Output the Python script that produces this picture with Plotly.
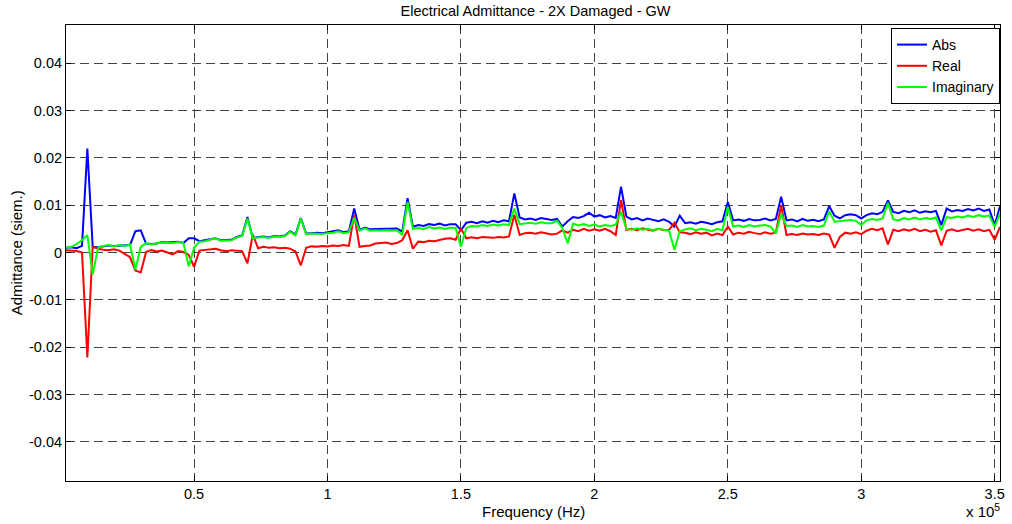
import numpy as np
import plotly.graph_objects as go

# Frequency grid (kHz), 2 kHz steps from 2 to 352 kHz
freq_khz = np.arange(2, 353, 2)

# Values in milli-siemens
abs_mS = [
    1.0, 1.1, 0.9, 1.4, 22.0, 1.2, 1.1, 1.3, 1.5, 1.4,
    1.5, 1.6, 1.6, 4.5, 4.7, 1.9, 1.8, 1.9, 2.2, 2.1,
    2.2, 2.3, 2.0, 3.0, 3.0, 2.4, 2.6, 2.8, 3.0, 2.6,
    2.6, 2.7, 3.3, 3.6, 7.5, 3.0, 3.3, 3.4, 3.2, 3.5,
    3.4, 3.6, 4.5, 3.8, 7.3, 4.0, 4.1, 4.2, 4.1, 4.3,
    4.4, 4.7, 4.3, 4.5, 9.3, 4.8, 5.3, 4.9, 5.0, 5.0,
    5.1, 5.0, 5.1, 4.4, 11.5, 5.4, 5.8, 5.6, 6.0, 5.8,
    6.1, 5.7, 6.0, 6.0, 4.7, 6.3, 6.5, 6.2, 6.6, 6.3,
    6.7, 6.4, 6.8, 6.6, 12.5, 7.4, 7.0, 7.2, 6.9, 7.3,
    7.1, 6.9, 7.1, 5.5, 6.6, 7.5, 7.3, 7.7, 8.4, 7.6,
    7.9, 7.4, 7.7, 7.3, 13.9, 7.6, 7.0, 7.3, 6.8, 7.2,
    6.9, 6.6, 7.0, 6.5, 5.5, 7.8, 6.2, 6.4, 6.1, 6.5,
    6.3, 6.0, 6.4, 6.6, 10.7, 6.8, 7.0, 6.7, 7.1, 6.8,
    6.9, 7.2, 6.8, 7.1, 11.8, 6.8, 7.0, 6.6, 7.1, 6.7,
    6.9, 6.6, 7.0, 9.8, 7.8, 7.2, 7.9, 8.1, 7.9, 7.2,
    7.9, 8.3, 8.1, 8.6, 11.0, 8.6, 8.3, 8.8, 8.5, 8.9,
    8.4, 8.7, 8.5, 8.8, 5.8, 9.3, 8.7, 9.0, 8.8, 9.2,
    8.9, 9.3, 8.8, 9.1, 5.8, 9.8,
]

real_mS = [
    0.5, 0.4, 0.3, 0.0, -22.2, 1.2, 0.8, 0.6, 0.5, 0.7,
    0.4, -0.3, -1.0, -3.8, -4.2, 0.1, 0.5, 0.2, 0.4, 0.0,
    -0.4, 0.3, 0.1, -0.5, -3.0, 0.4, 0.5, 0.6, 0.8, 0.5,
    0.3, 0.5, 0.4, 0.3, -2.3, 3.8, 0.9, 1.2, 1.0, 1.1,
    0.9, 1.0, 0.8, 0.2, -2.7, 1.0, 1.3, 1.2, 1.4, 1.3,
    1.5, 1.4, 1.6, 1.4, 8.0, 1.2, 1.4, 1.5, 1.9, 2.0,
    2.1, 1.8, 2.0, 2.6, 4.7, 0.8, 2.3, 2.2, 2.5, 2.4,
    2.7, 2.9, 3.0, 2.7, 5.1, 3.0, 3.2, 3.0, 3.3, 3.2,
    3.1, 3.3, 3.2, 3.4, 8.0, 3.7, 4.1, 4.2, 4.0, 4.3,
    4.1, 3.8, 4.0, 4.7, 4.2, 4.8, 4.5, 5.0, 4.6, 4.9,
    4.6, 5.0, 4.5, 3.7, 11.1, 4.8, 5.0, 4.7, 5.1, 4.8,
    4.6, 5.0, 4.7, 4.8, 6.3, 4.3, 4.2, 3.9, 4.3, 4.0,
    4.2, 3.6, 4.0, 3.7, 5.5, 3.8, 4.2, 4.0, 4.4, 4.1,
    3.9, 4.3, 4.0, 4.2, 10.0, 3.7, 3.9, 3.7, 4.0, 3.8,
    3.9, 3.7, 4.0, 3.8, 1.0, 3.3, 4.2, 4.0, 4.3, 3.9,
    4.6, 5.0, 4.7, 5.1, 1.7, 4.8, 4.5, 4.9, 4.6, 5.0,
    4.5, 4.8, 4.4, 4.7, 1.5, 4.6, 4.9, 4.5, 4.8, 5.0,
    4.6, 4.9, 4.5, 4.8, 2.7, 5.4,
]

imag_mS = [
    1.0, 1.2, 1.8, 2.6, 3.7, -4.6, 1.0, 1.4, 1.6, 1.3,
    1.6, 1.4, 1.7, -3.6, 1.2, 2.0, 1.7, 1.9, 2.1, 2.0,
    2.0, 2.2, 2.0, -2.9, 1.0, 2.3, 2.4, 2.7, 3.0, 2.5,
    2.5, 2.6, 3.2, 3.5, 7.2, 3.0, 3.2, 3.3, 3.1, 3.4,
    3.3, 3.5, 4.4, 3.6, 7.2, 3.9, 4.0, 4.0, 3.9, 4.1,
    4.2, 4.5, 4.1, 4.3, 7.4, 4.6, 5.1, 4.6, 4.7, 4.6,
    4.7, 4.6, 4.7, 3.7, 10.7, 5.0, 5.2, 5.0, 5.4, 5.1,
    5.3, 5.0, 5.3, 5.2, 1.2, 5.2, 5.6, 5.5, 5.8, 5.6,
    5.9, 5.7, 6.0, 5.8, 9.3, 6.0, 6.2, 6.3, 6.1, 6.4,
    6.2, 6.2, 6.7, 5.2, 1.9, 6.1, 5.7, 6.0, 5.6, 5.9,
    5.5, 5.8, 5.6, 5.9, 8.6, 5.0, 4.8, 5.1, 4.8, 5.0,
    4.7, 5.0, 4.8, 4.6, 0.6, 4.5, 4.9, 5.1, 4.7, 5.0,
    4.8, 4.5, 5.0, 4.7, 9.6, 5.5, 5.7, 5.4, 5.8, 5.5,
    5.7, 5.8, 5.5, 4.0, 8.2, 5.6, 5.7, 5.4, 5.8, 5.5,
    5.6, 5.4, 5.7, 8.7, 6.5, 6.6, 6.8, 6.9, 6.7, 5.8,
    6.8, 7.1, 6.9, 7.2, 10.5, 7.0, 6.8, 7.3, 7.0, 7.4,
    7.0, 7.3, 7.1, 7.4, 4.7, 7.5, 7.3, 7.6, 7.4, 7.8,
    7.5, 7.9, 7.6, 7.8, 5.4, 8.2,
]

x_tickvals = [50000, 100000, 150000, 200000, 250000, 300000, 350000]
x_ticktext = ["0.5", "1", "1.5", "2", "2.5", "3", "3.5"]
y_tickvals = [-0.04, -0.03, -0.02, -0.01, 0, 0.01, 0.02, 0.03, 0.04]
y_ticktext = ["-0.04", "-0.03", "-0.02", "-0.01", "0", "0.01", "0.02", "0.03", "0.04"]

series = [
    ("Abs", abs_mS, "#0000FF"),
    ("Real", real_mS, "#FF0000"),
    ("Imaginary", imag_mS, "#00FF00"),
]

FONT = "Liberation Sans, Arial, Helvetica, sans-serif"
f_hz = freq_khz * 1000

fig = go.Figure()
for name, vals, color in series:
    fig.add_trace(go.Scatter(
        x=f_hz, y=np.array(vals) / 1000.0, mode="lines", name=name,
        line=dict(color=color, width=2),
    ))

W, H = 1012, 524
L, R, T, B = 66, 7, 25, 43
pw, ph = W - L - R, H - T - B

def px_x(px):
    return (px - L) / pw

def px_y(py):
    return (H - B - py) / ph

axis_common = dict(
    showline=True, linecolor="black", linewidth=1, mirror="ticks",
    ticks="inside", ticklen=5, tickcolor="black", tickwidth=1,
    showgrid=True, gridcolor="#444444", gridwidth=1, griddash="9px,5px",
    zeroline=False, tickfont=dict(family=FONT, size=14.5, color="black"),
)

fig.update_layout(
    width=W, height=H,
    margin=dict(l=L, r=R, t=T, b=B),
    paper_bgcolor="white", plot_bgcolor="white",
    font=dict(family=FONT, size=15, color="black"),
    title=dict(text="Electrical Admittance - 2X Damaged - GW",
               x=0.5 * (L + W - R) / W, xanchor="center",
               y=1 - 10.5 / H, yanchor="middle",
               font=dict(family=FONT, size=14.5, color="black")),
    xaxis=dict(range=[2000, 352000], tickvals=x_tickvals, ticktext=x_ticktext,
               **axis_common),
    yaxis=dict(range=[-0.0483, 0.0481], tickvals=y_tickvals, ticktext=y_ticktext,
               **axis_common),
    legend=dict(x=px_x(1005), y=px_y(28), xanchor="right", yanchor="top",
                bgcolor="white", bordercolor="black", borderwidth=1,
                font=dict(family=FONT, size=14, color="black"),
                itemwidth=30, tracegroupgap=0),
    showlegend=True,
    annotations=[
        dict(text="Frequency (Hz)", xref="paper", yref="paper",
             x=px_x(535.5), y=px_y(511), xanchor="center", yanchor="middle",
             showarrow=False, font=dict(family=FONT, size=15, color="black")),
        dict(text="Admittance (siem.)", xref="paper", yref="paper",
             x=px_x(16), y=px_y(253), xanchor="center", yanchor="middle",
             textangle=-90, showarrow=False,
             font=dict(family=FONT, size=15, color="black")),
        dict(text="x 10<sup>5</sup>", xref="paper", yref="paper",
             x=px_x(1007), y=px_y(522), xanchor="right", yanchor="bottom",
             showarrow=False, font=dict(family=FONT, size=15, color="black")),
    ],
)

fig.write_html("out.html", config={"displayModeBar": False})
